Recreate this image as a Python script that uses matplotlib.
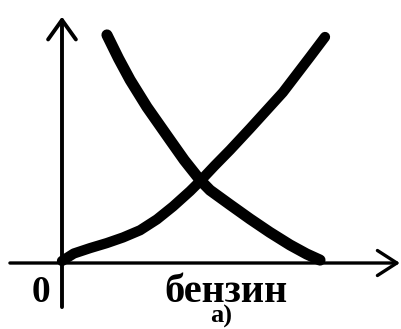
import matplotlib
matplotlib.use("Agg")
import matplotlib.pyplot as plt

# Data (arbitrary units, origin at the axes' crossing)
rising_x = [0.0, 0.45, 1.07, 1.70, 2.32, 2.97, 3.61, 4.22, 4.87, 5.25, 5.80, 6.39, 7.15, 8.40, 9.43, 10.0]
rising_y = [0.09, 0.42, 0.66, 0.88, 1.13, 1.45, 1.93, 2.50, 3.18, 3.62, 4.30, 5.00, 5.95, 7.55, 9.12, 10.0]

falling_x = [1.71, 2.15, 2.59, 3.23, 4.11, 4.65, 5.25, 5.63, 6.39, 7.15, 7.90, 8.67, 9.30, 9.81]
falling_y = [10.09, 9.05, 8.10, 6.90, 5.44, 4.55, 3.67, 3.22, 2.58, 1.95, 1.36, 0.80, 0.40, 0.13]

x_label = "бензин"
origin_label = "0"
caption = "а)"

fig = plt.figure(figsize=(4.01, 3.29), dpi=100)
ax = fig.add_axes([0, 0, 1, 1])
ax.set_xlim(-2.357, 12.89)
ax.set_ylim(-2.92, 11.637)
ax.axis("off")

# axes with arrows
ax.annotate("", xy=(12.85, 0), xytext=(-1.98, 0),
            arrowprops=dict(arrowstyle="->,head_length=0.7,head_width=0.45",
                            lw=2.4, color="black", mutation_scale=20,
                            shrinkA=0, shrinkB=0))
ax.annotate("", xy=(0, 10.9), xytext=(0, -1.95),
            arrowprops=dict(arrowstyle="->,head_length=0.7,head_width=0.5",
                            lw=2.8, color="black", mutation_scale=20,
                            shrinkA=0, shrinkB=0))

ax.plot(rising_x, rising_y, color="black", lw=7.4, solid_capstyle="round",
        solid_joinstyle="round")
ax.plot(falling_x, falling_y, color="black", lw=8.0, solid_capstyle="round",
        solid_joinstyle="round")

font = dict(family="Liberation Serif", weight="bold", color="black")
ax.text(-0.80, -1.73, origin_label, fontsize=27, ha="center", va="baseline", **font)
ax.text(6.25, -1.73, x_label, fontsize=29, ha="center", va="baseline", **font)
ax.text(6.05, -2.65, caption, fontsize=19, ha="center", va="baseline", **font)

fig.savefig("out.png", dpi=100)
